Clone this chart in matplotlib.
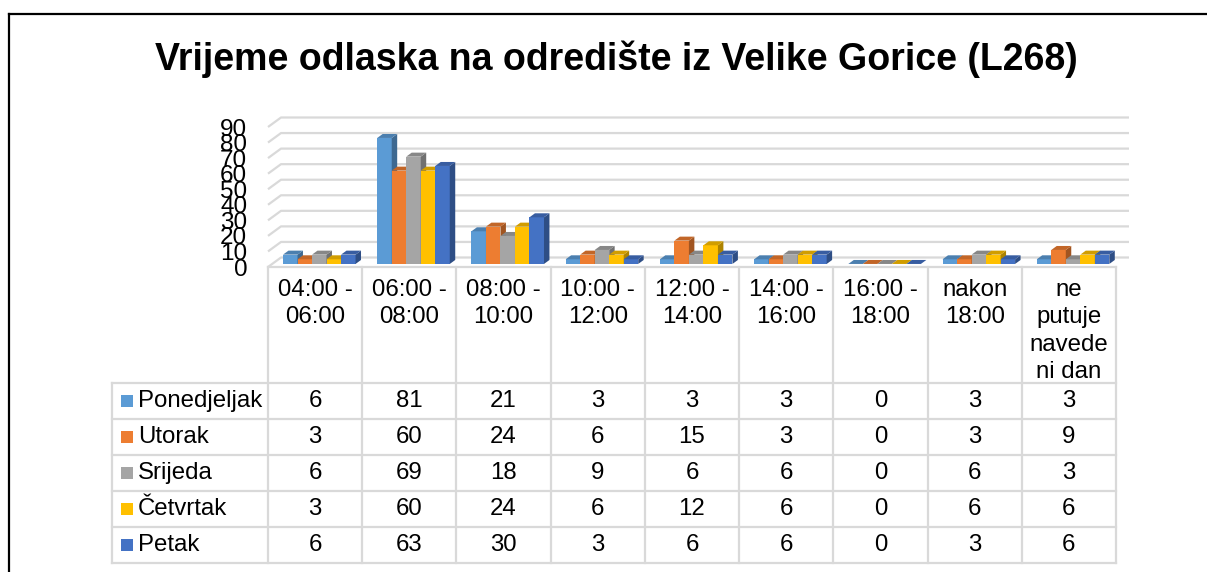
import matplotlib
matplotlib.use('Agg')
import matplotlib.pyplot as plt
from matplotlib.patches import Polygon, Rectangle
from matplotlib.lines import Line2D
import matplotlib.transforms as mtransforms
import numpy as np

plt.rcParams['font.family'] = ['Liberation Sans', 'DejaVu Sans']

title = "Vrijeme odlaska na odredište iz Velike Gorice (L268)"
categories = ["04:00 -\n06:00", "06:00 -\n08:00", "08:00 -\n10:00", "10:00 -\n12:00",
              "12:00 -\n14:00", "14:00 -\n16:00", "16:00 -\n18:00", "nakon\n18:00",
              "ne\nputuje\nnavede\nni dan"]
series = ["Ponedjeljak", "Utorak", "Srijeda", "Četvrtak", "Petak"]
ponedjeljak = [6, 81, 21, 3, 3, 3, 0, 3, 3]
utorak = [3, 60, 24, 6, 15, 3, 0, 3, 9]
srijeda = [6, 69, 18, 9, 6, 6, 0, 6, 3]
cetvrtak = [3, 60, 24, 6, 12, 6, 0, 6, 6]
petak = [6, 63, 30, 3, 6, 6, 0, 3, 6]
values = [ponedjeljak, utorak, srijeda, cetvrtak, petak]
colors = ['#5B9BD5', '#ED7D31', '#A5A5A5', '#FFC000', '#4472C4']
yticks = list(range(0, 91, 10))

W, H = 1207, 572
fig = plt.figure(figsize=(W / 100, H / 100), dpi=100)
fig.patch.set_facecolor('white')


def fx(px):
    return px / W


def fy(py):
    return 1 - py / H


def shade(c, f):
    r, g, b = matplotlib.colors.to_rgb(c)
    return (r * f, g * f, b * f)


ax = fig.add_axes([fx(268), fy(267), fx(1116) - fx(268), fy(127) - fy(267)])
ax.patch.set_visible(False)
for sp in ax.spines.values():
    sp.set_visible(False)

ncat = len(categories)
px_per_cat = (1116 - 268) / ncat
px_per_val = 140 / 90
DX = 13 / px_per_cat
DY = 9.5 / px_per_val

GRID = '#d9d9d9'
# back wall / side wall gridlines
for v in yticks:
    ax.plot([0, DX, ncat + DX], [v, v + DY, v + DY], color=GRID, lw=1.6,
            clip_on=False, zorder=1, solid_capstyle='butt')

# bars (pseudo 3D)
group = 0.77
bw = group / len(series)
start = (1 - group) / 2
d0 = 0.32
dd = 0.42
for s, vals in enumerate(values):
    c = colors[s]
    z = 3 + s * 0.1
    for i, v in enumerate(vals):
        x0 = i + start + s * bw + d0 * DX
        b = d0 * DY
        ax.bar(x0, v, width=bw, bottom=b, align='edge', color=c, lw=0,
               clip_on=False, zorder=z)
        x1 = x0 + bw
        top = b + v
        ddx, ddy = dd * DX, dd * DY
        side = Polygon([(x1, b), (x1 + ddx, b + ddy), (x1 + ddx, top + ddy), (x1, top)],
                       closed=True, facecolor=shade(c, 0.68), lw=0, clip_on=False, zorder=z)
        ax.add_patch(side)
        tp = Polygon([(x0, top), (x1, top), (x1 + ddx, top + ddy), (x0 + ddx, top + ddy)],
                     closed=True, facecolor=shade(c, 0.82), lw=0, clip_on=False, zorder=z)
        ax.add_patch(tp)

ax.set_xlim(0, ncat)
ax.set_ylim(0, 90)
ax.set_xticks([])
ax.set_yticks(yticks)
ax.set_yticklabels([str(t) for t in yticks])
ax.tick_params(axis='y', length=0, pad=15, labelsize=17.5, labelcolor='black')

# data table
T = mtransforms.blended_transform_factory(ax.transData, fig.transFigure)
xl = (112 - 268) / px_per_cat
rows_y = [383, 419, 455, 491, 527, 563]
FS = 17.3


def hline(x0, x1, py):
    fig.add_artist(Line2D([x0, x1], [fy(py), fy(py)], transform=T, color=GRID, lw=1.6))


def vline(x, py0, py1):
    fig.add_artist(Line2D([x, x], [fy(py0), fy(py1)], transform=T, color=GRID, lw=1.6))


hline(0, ncat, 267)
for py in rows_y:
    hline(xl, ncat, py)
for i in range(ncat + 1):
    vline(i, 267, rows_y[-1])
vline(xl, rows_y[0], rows_y[-1])

for i, cat in enumerate(categories):
    fig.text(i + 0.5, fy(279), cat, transform=T, ha='center', va='top',
             fontsize=FS, linespacing=1.31)

for s, name in enumerate(series):
    yc = (rows_y[s] + rows_y[s + 1]) / 2
    kx = (121 - 268) / px_per_cat
    kw = 12 / px_per_cat
    fig.add_artist(Rectangle((kx, fy(yc + 6)), kw, 12 / H, transform=T,
                             facecolor=colors[s], lw=0))
    fig.text((138 - 268) / px_per_cat, fy(yc), name, transform=T, ha='left',
             va='center', fontsize=FS)
    for i, v in enumerate(values[s]):
        fig.text(i + 0.5, fy(yc), str(v), transform=T, ha='center', va='center',
                 fontsize=FS)

# title
fig.text(fx(616), fy(70), title, ha='center', va='baseline', fontsize=27,
         fontweight='bold')

# chart border
fig.add_artist(Line2D([fx(9), fx(9)], [fy(14), 0], color='black', lw=1.6))
fig.add_artist(Line2D([fx(9), 1], [fy(14), fy(14)], color='black', lw=1.6))

fig.savefig('out.png', dpi=100)
